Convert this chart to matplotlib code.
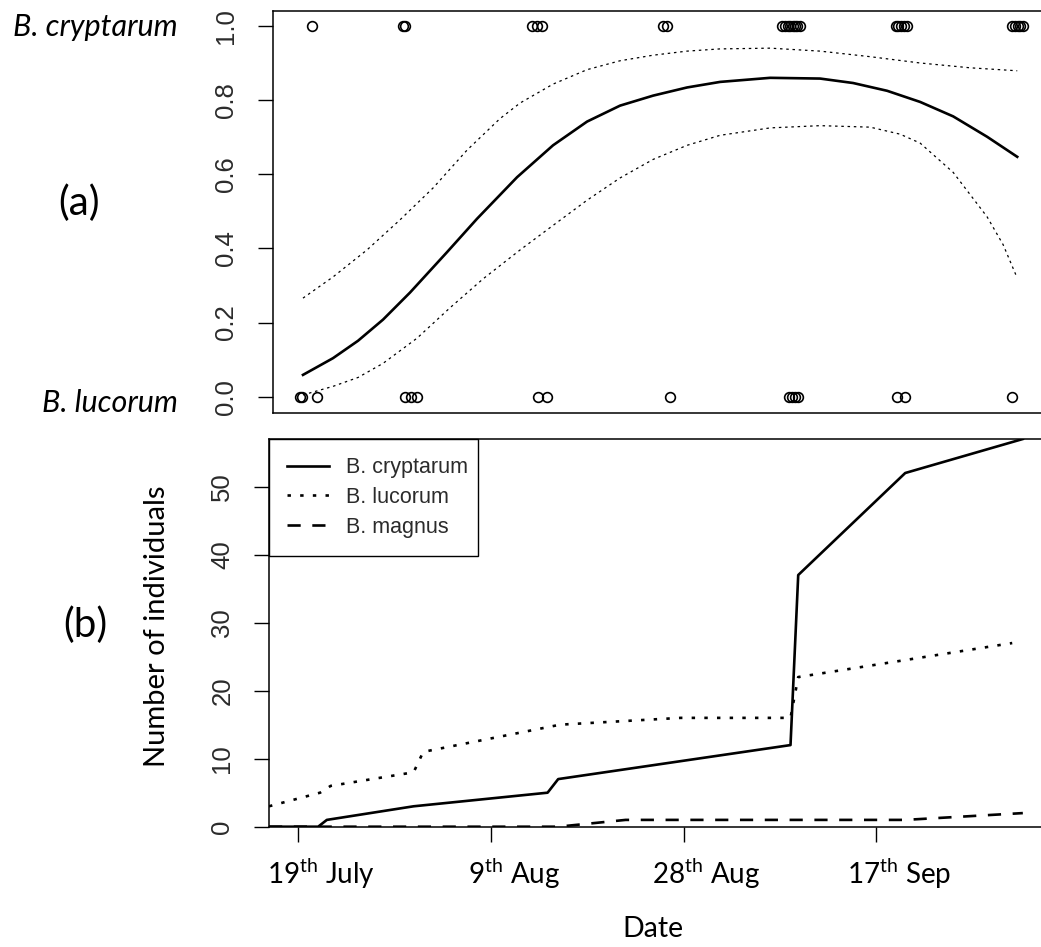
import matplotlib
matplotlib.use("Agg")
import matplotlib.pyplot as plt
from matplotlib.patches import Rectangle
from matplotlib.transforms import ScaledTranslation

# ---- data (x = day of year) ----
# (a) presence of B. cryptarum (1) / B. lucorum (0)
crypt_days = [201.5, 210.9, 211.1, 224.3, 224.8, 225.3, 237.9, 238.3,
              250.2, 250.5, 250.8, 251.1, 251.4, 251.6, 251.8, 252.1,
              262.0, 262.3, 262.6, 262.9, 263.2,
              274.1, 274.4, 274.7, 274.9, 275.2]
lucor_days = [200.2, 200.45, 202.0, 211.1, 211.8, 212.4, 224.9, 225.9, 238.6,
              250.9, 251.3, 251.6, 251.9, 262.2, 263.0, 274.1]

fit_x = [200.55, 203.66, 206.26, 208.85, 211.65, 215.49, 218.6, 222.75, 226.48,
         230.01, 233.43, 236.86, 240.38, 243.81, 249.0, 254.18, 257.6, 261.13,
         264.55, 267.98, 271.5, 274.62]
fit_y = [0.059, 0.104, 0.151, 0.208, 0.281, 0.390, 0.480, 0.592, 0.678,
         0.742, 0.785, 0.812, 0.834, 0.849, 0.860, 0.858, 0.846, 0.825,
         0.795, 0.756, 0.701, 0.647]

upper_x = [200.55, 203.66, 207.19, 210.61, 214.04, 217.56, 220.98, 223.06,
           226.48, 230.01, 233.43, 236.86, 240.38, 243.81, 249.0, 254.18,
           259.37, 264.55, 269.74, 274.62]
upper_y = [0.266, 0.323, 0.396, 0.477, 0.563, 0.665, 0.750, 0.792,
           0.843, 0.882, 0.906, 0.921, 0.932, 0.938, 0.940, 0.932,
           0.917, 0.900, 0.887, 0.879]

lower_x = [200.55, 203.66, 206.26, 208.85, 212.38, 215.8, 219.23, 223.07,
           226.48, 230.01, 233.43, 236.86, 240.38, 243.81, 249.0, 254.18,
           259.37, 262.48, 264.55, 267.98, 271.5, 273.16, 274.62]
lower_y = [0.005, 0.028, 0.052, 0.090, 0.158, 0.240, 0.318, 0.396,
           0.462, 0.530, 0.590, 0.640, 0.678, 0.705, 0.725, 0.731,
           0.727, 0.708, 0.684, 0.605, 0.485, 0.410, 0.320]

# (b) cumulative number of individuals
cryp_x = [197.0, 202.1, 203.0, 212.0, 225.9, 227.0, 251.1, 251.9, 263.0, 275.2]
cryp_n = [0, 0, 1, 3, 5, 7, 12, 37, 52, 57]
luco_x = [197.0, 202.3, 203.4, 212.0, 213.0, 227.2, 239.7, 251.1, 251.9, 274.1]
luco_n = [3, 5, 6, 8, 11, 15, 16, 16, 22, 27]
magn_x = [197.0, 227.0, 234.0, 263.0, 275.2]
magn_n = [0, 0, 1, 1, 2]

date_ticks = [200, 220, 240, 260]
date_labels = [r"19$^{\mathregular{th}}$ July", r"9$^{\mathregular{th}}$ Aug",
               r"28$^{\mathregular{th}}$ Aug", r"17$^{\mathregular{th}}$ Sep"]

W, H = 1041, 947
fig = plt.figure(figsize=(W / 100, H / 100), dpi=100)
TXT = "Lato"
NUM = "Liberation Sans"
tick_col = "#2b2b2b"


def fx(px):
    return px / W


def fy(py):
    return 1 - py / H


def style_axes(ax):
    for s in ["left", "top", "bottom"]:
        ax.spines[s].set_linewidth(1.1)
    ax.spines["right"].set_visible(False)
    ax.tick_params(axis="y", length=11, width=1.0, pad=14, labelsize=18.5,
                   labelcolor=tick_col, labelrotation=90)
    for lab in ax.get_yticklabels():
        lab.set_fontfamily(NUM)
        lab.set_va("center")


# ---- panel (a) ----
ax1 = fig.add_axes([fx(273), fy(412.7), fx(1045 - 273), (412.7 - 10.7) / H])
ax1.plot(fit_x, fit_y, color="black", lw=1.9)
ax1.plot(upper_x, upper_y, color="black", lw=0.9, ls=(0, (2, 3)))
ax1.plot(lower_x, lower_y, color="black", lw=0.9, ls=(0, (2, 3)))
ax1.plot(crypt_days, [1] * len(crypt_days), "o", mfc="none", mec="black",
         ms=7, mew=1.2)
ax1.plot(lucor_days, [0] * len(lucor_days), "o", mfc="none", mec="black",
         ms=7, mew=1.2)
ax1.set_xlim(197.44, 277.5)
ax1.set_ylim(-0.043, 1.041)
ax1.set_yticks([0, 0.2, 0.4, 0.6, 0.8, 1.0])
ax1.set_yticklabels(["0.0", "0.2", "0.4", "0.6", "0.8", "1.0"])
ax1.set_xticks([])
style_axes(ax1)

# ---- panel (b) ----
ax2 = fig.add_axes([fx(269), fy(826.7), fx(1045 - 269), (826.7 - 439) / H])
ax2.plot(cryp_x, cryp_n, color="black", lw=1.9, label="B. cryptarum")
ax2.plot(luco_x, luco_n, color="black", lw=1.9, ls=(0, (1.3, 3.5)),
         label="B. lucorum")
ax2.plot(magn_x, magn_n, color="black", lw=1.9, ls=(0, (5, 4.4)),
         label="B. magnus")
ax2.set_xlim(197.0, 277.5)
ax2.set_ylim(0, 57)
ax2.set_yticks([0, 10, 20, 30, 40, 50])
ax2.set_xticks(date_ticks)
ax2.set_xticklabels(date_labels, fontfamily=TXT, fontsize=20)
ax2.tick_params(axis="x", length=11, width=1.0, pad=10)
for lab in ax2.get_xticklabels():
    lab.set_transform(lab.get_transform() + ScaledTranslation(0.23, 0, fig.dpi_scale_trans))
style_axes(ax2)

leg = ax2.legend(loc="upper left", bbox_to_anchor=(0, 1), borderaxespad=0,
                 frameon=False, prop={"family": NUM, "size": 15.5},
                 handlelength=1.95, handletextpad=0.8, labelspacing=0.4,
                 borderpad=0.85)
for t in leg.get_texts():
    t.set_color(tick_col)
# legend box as drawn by R (tighter on the right than on the left)
fig.add_artist(Rectangle((fx(269), fy(556)), fx(478 - 269), (556 - 439) / H,
                         transform=fig.transFigure, fill=False,
                         edgecolor="black", lw=1.0))

# ---- side labels ----
fig.text(fx(178), fy(27), "B. cryptarum", ha="right", va="center",
         fontsize=22, style="italic", family=TXT)
fig.text(fx(178), fy(403), "B. lucorum", ha="right", va="center",
         fontsize=22, style="italic", family=TXT)
fig.text(fx(79), fy(203), "(a)", ha="center", va="center", fontsize=29, family=TXT)
fig.text(fx(85), fy(625), "(b)", ha="center", va="center", fontsize=29, family=TXT)
fig.text(fx(157), fy(626), "Number of individuals", rotation=90, ha="center",
         va="center", fontsize=21, family=TXT)
fig.text(fx(653), fy(929), "Date", ha="center", va="center", fontsize=20.5, family=TXT)

fig.savefig("out.png", dpi=100)
